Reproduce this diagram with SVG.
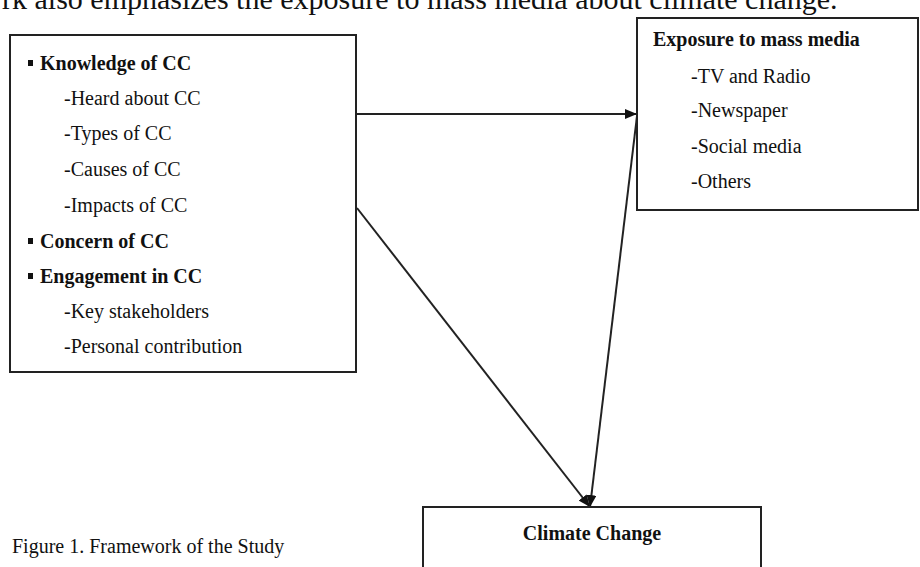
<svg xmlns="http://www.w3.org/2000/svg" width="920" height="567" viewBox="0 0 920 567">
<defs>
<style>
.box{fill:#fff;stroke:#222;stroke-width:2}
.t{font-family:"Liberation Serif","Times New Roman",serif;font-size:20px;fill:#111}
.b{font-weight:bold}
.ln{stroke:#222;stroke-width:2;fill:none}
.bul{fill:#111}
</style>
<marker id="ah" viewBox="0 0 12 10" refX="12" refY="5" markerWidth="12" markerHeight="10" markerUnits="userSpaceOnUse" orient="auto">
<path d="M0,0 L12,5 L0,10 z" fill="#111"/>
</marker>
</defs>
<rect width="920" height="567" fill="#fff"/>
<text x="2" y="9" class="t" style="font-size:30px">rk also emphasizes the exposure to mass media about climate change.</text>
<g id="connectors">
<line class="ln" x1="357" y1="114" x2="637" y2="114" marker-end="url(#ah)"/>
<line class="ln" x1="357" y1="208" x2="590" y2="507" marker-end="url(#ah)"/>
<line class="ln" x1="637" y1="116" x2="590" y2="507" marker-end="url(#ah)"/>
</g>
<g id="knowledge">
<rect class="box" x="10" y="35" width="346" height="337"/>
<rect class="bul" x="28" y="60" width="5" height="6"/>
<text class="t b" x="40" y="70">Knowledge of CC</text>
<text class="t" x="64" y="105">-Heard about CC</text>
<text class="t" x="64" y="140">-Types of CC</text>
<text class="t" x="64" y="176">-Causes of CC</text>
<text class="t" x="64" y="212">-Impacts of CC</text>
<rect class="bul" x="28" y="238" width="5" height="6"/>
<text class="t b" x="40" y="248">Concern of CC</text>
<rect class="bul" x="28" y="273" width="5" height="6"/>
<text class="t b" x="40" y="283">Engagement in CC</text>
<text class="t" x="64" y="318">-Key stakeholders</text>
<text class="t" x="64" y="353">-Personal contribution</text>
</g>
<g id="media">
<rect class="box" x="637" y="18" width="281" height="192"/>
<text class="t b" x="653" y="46">Exposure to mass media</text>
<text class="t" x="691" y="83">-TV and Radio</text>
<text class="t" x="691" y="117">-Newspaper</text>
<text class="t" x="691" y="153">-Social media</text>
<text class="t" x="691" y="188">-Others</text>
</g>
<g id="climate">
<rect class="box" x="423" y="507" width="338" height="80"/>
<text class="t b" x="592" y="540" text-anchor="middle">Climate Change</text>
</g>
<text class="t" x="12" y="553">Figure 1. Framework of the Study</text>
</svg>
